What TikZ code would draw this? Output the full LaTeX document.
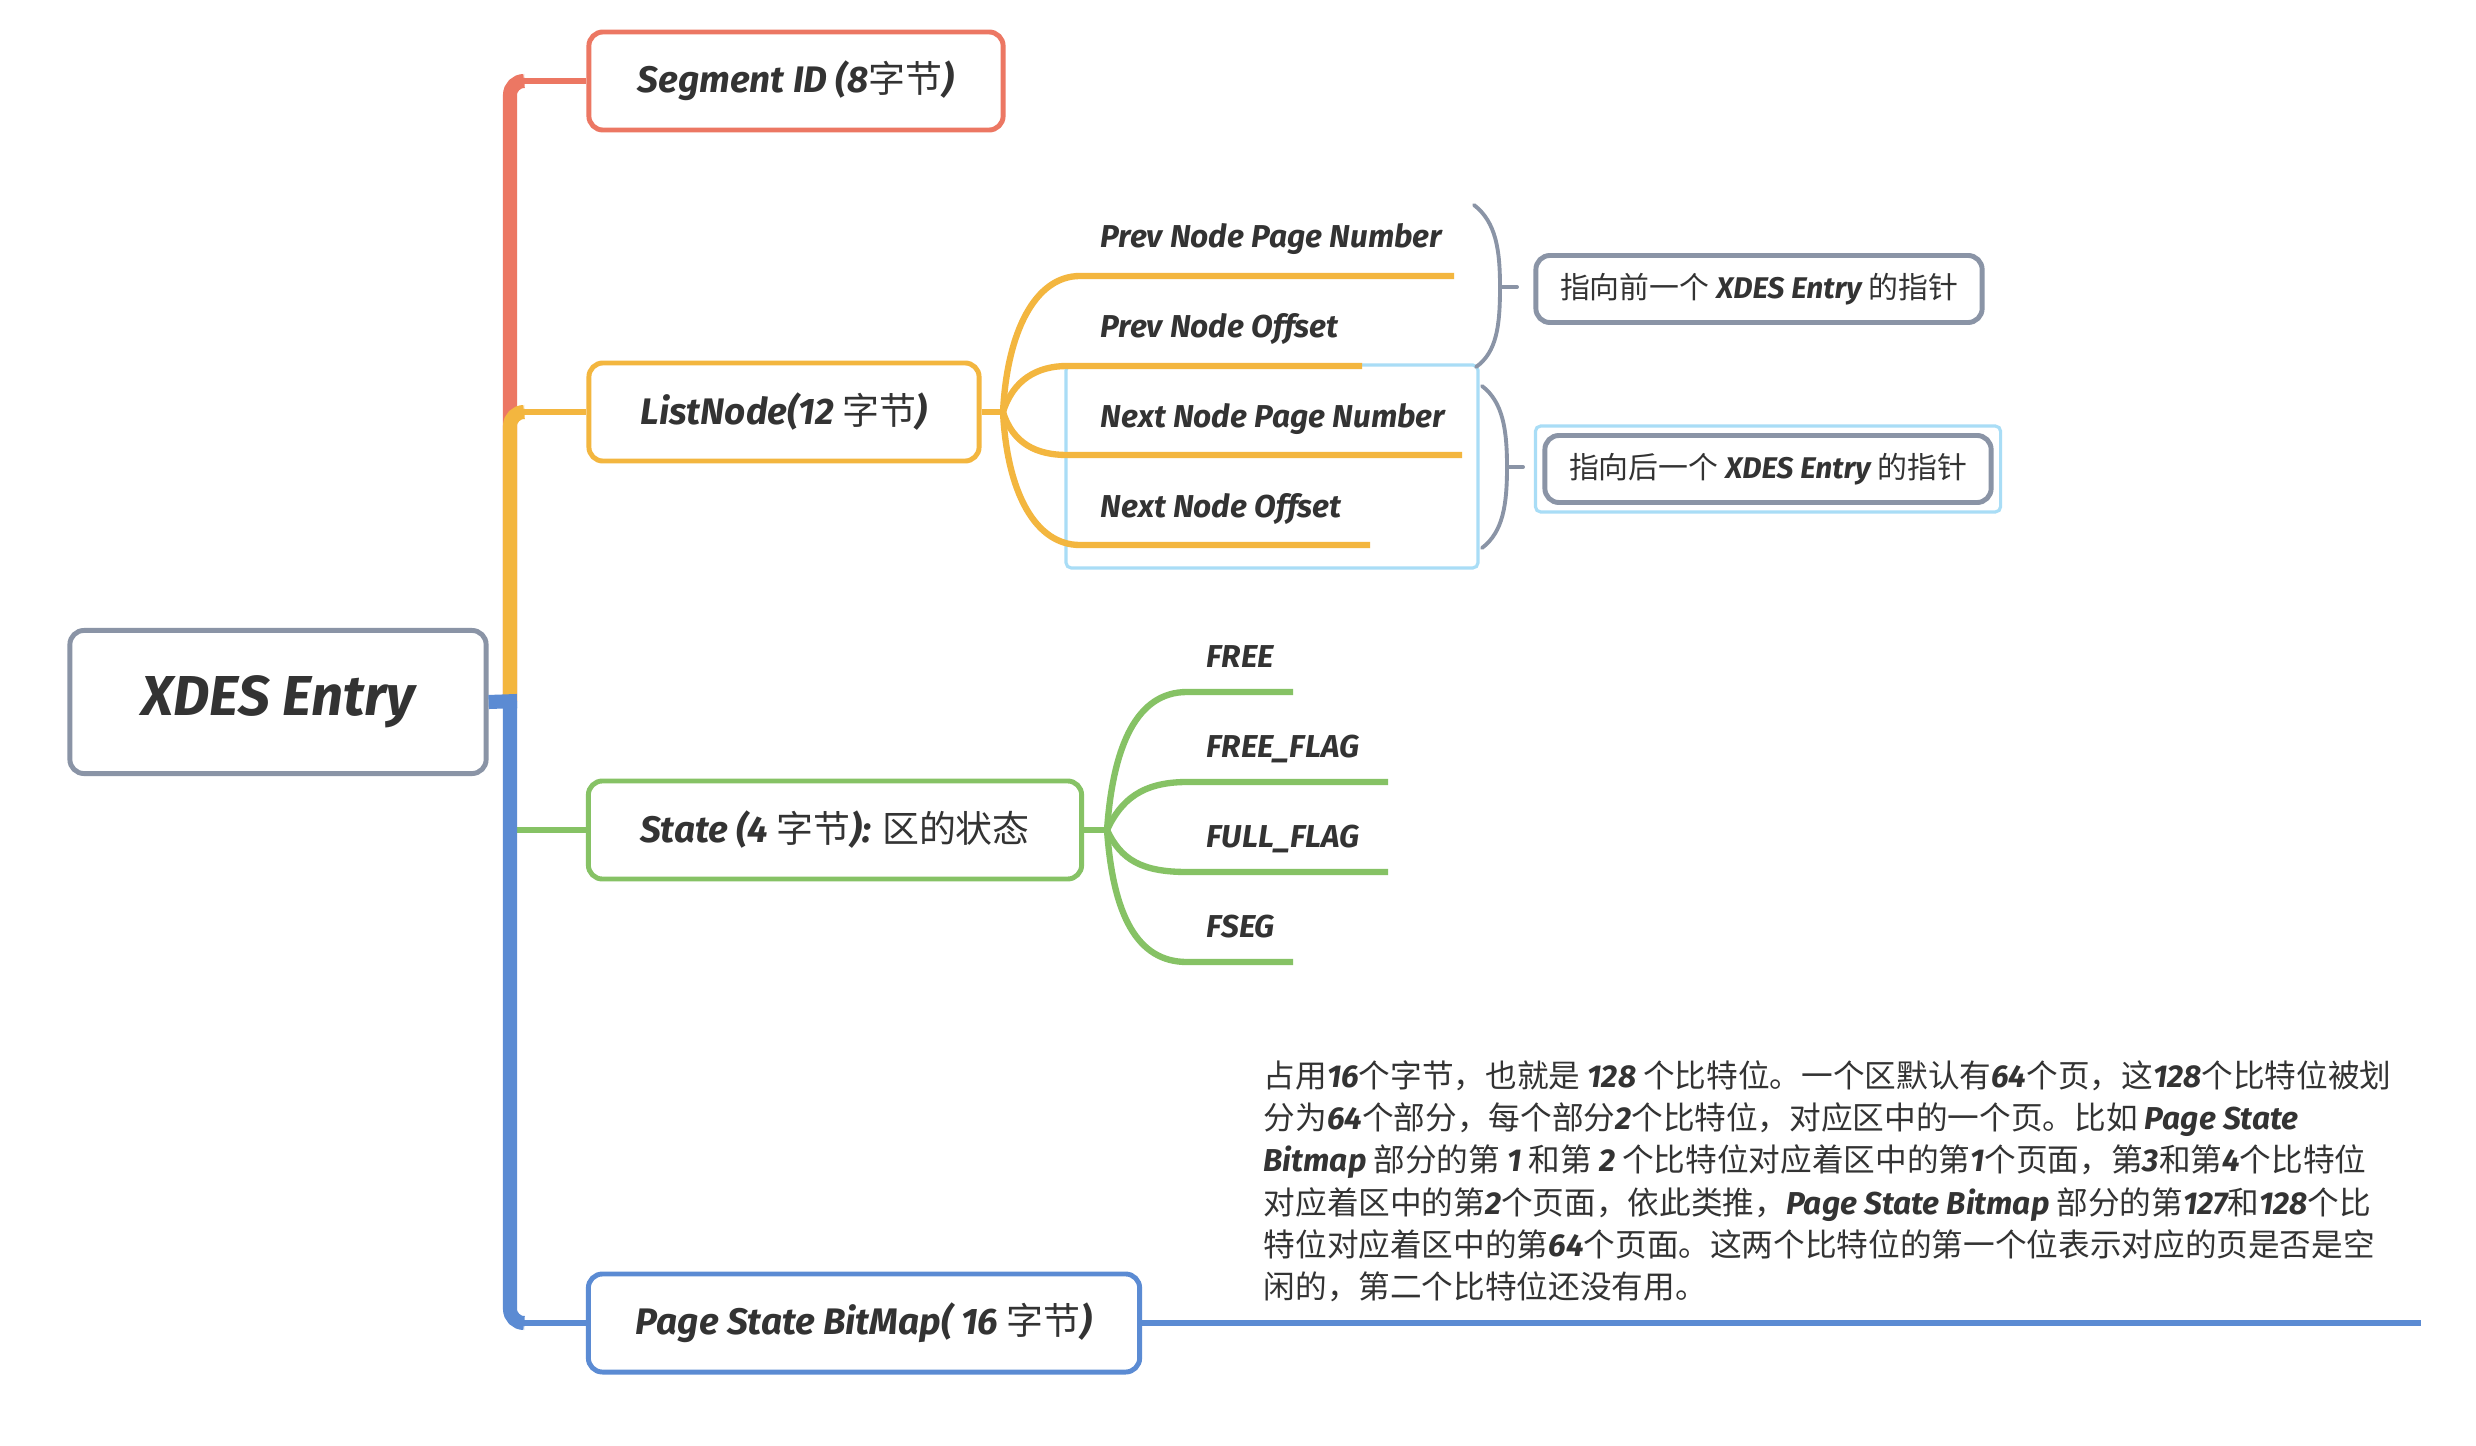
\documentclass[tikz,border=0pt]{standalone}
\usepackage{fontspec}
\setmainfont{Fira Sans}
\newfontfamily\cjk{Noto Sans CJK SC}
\usepackage{xcolor}
\usepackage{tikz}
\usetikzlibrary{calc}

\definecolor{ink}{HTML}{333333}
\definecolor{xred}{HTML}{EC7763}
\definecolor{xyellow}{HTML}{F3B63F}
\definecolor{xgreen}{HTML}{86C265}
\definecolor{xblue}{HTML}{5B8BD3}
\definecolor{xgray}{HTML}{8A94A6}
\definecolor{xsky}{HTML}{A9DDF6}

\newcommand{\zh}[1]{{\cjk\mdseries\upshape #1}}
\newcommand{\en}[1]{{\rmfamily\bfseries\itshape #1}}

\begin{document}
\begin{tikzpicture}[
    x=0.01cm, y=-0.01cm,
    every node/.style={text=ink},
    root/.style={draw=xgray, line width=1.4pt, rounded corners=4pt, fill=white,
                 minimum width=4.16cm, minimum height=1.43cm,
                 font=\fontsize{16}{18}\selectfont\bfseries\itshape},
    topic/.style={draw, line width=1.4pt, rounded corners=4pt, fill=white,
                  minimum height=0.98cm,
                  font=\fontsize{10.5}{12}\selectfont\bfseries\itshape},
    leaf/.style={anchor=base west, inner sep=0pt,
                 font=\fontsize{9}{11}\selectfont\bfseries\itshape},
    note/.style={draw=xgray, line width=1.4pt, rounded corners=4pt, fill=white,
                 minimum width=4.46cm, minimum height=0.67cm,
                 font=\fontsize{8.5}{10}\selectfont\bfseries\itshape},
    trunk/.style={line width=4pt, rounded corners=4pt},
    stub/.style={line width=1.7pt},
    twig/.style={line width=1.8pt},
    brace/.style={draw=xgray, line width=1.1pt, line cap=round},
    selbox/.style={draw=xsky, line width=0.9pt, rounded corners=1.5pt},
]
    \useasboundingbox (0,0) rectangle (2476,1446);
    \fill[white] (0,0) rectangle (2476,1446);

    % Root and main topics
    \node[root] (root) at (278,702) {XDES Entry};
    \node[topic, draw=xred, minimum width=4.14cm] (segid) at (796,81)
        {Segment ID (8\zh{字节})};
    \node[topic, draw=xyellow, minimum width=3.90cm] (listnode) at (784,412)
        {ListNode(12 \zh{字节})};
    \node[topic, draw=xgreen, minimum width=4.93cm] (state) at (835,830)
        {State (4 \zh{字节}): \zh{区的状态}};
    \node[topic, draw=xblue, minimum width=5.51cm] (bitmap) at (864,1323)
        {Page State BitMap( 16 \zh{字节})};

    \coordinate (hub) at (510,701);

    % Trunk branches
    \draw[trunk, xred] (hub) |- ($(hub |- segid.west)+(14,0)$);
    \draw[stub, xred] ($(hub |- segid.west)+(12,0)$) -- (segid.west);
    \draw[trunk, xyellow] (hub) |- ($(hub |- listnode.west)+(14,0)$);
    \draw[stub, xyellow] ($(hub |- listnode.west)+(12,0)$) -- (listnode.west);
    \draw[stub, xgreen] (hub |- state.west) -- (state.west);
    \draw[trunk, xblue] (hub) |- ($(hub |- bitmap.west)+(14,0)$);
    \draw[stub, xblue] ($(hub |- bitmap.west)+(12,0)$) -- (bitmap.west);
    \draw[trunk, xblue] (root.east) -- ($(hub)+(7,0)$);

    % ListNode children
    \coordinate (lfork) at (1003,412);
    \draw[stub, xyellow] (listnode.east) -- (lfork);
    \draw[selbox] (1066,365) rectangle (1478,568);

    \node[leaf] (pnpn) at (1100,248) {Prev Node Page Number};
    \node[leaf] (pno)  at (1100,338) {Prev Node Offset};
    \node[leaf] (nnpn) at (1100,428) {Next Node Page Number};
    \node[leaf] (nno)  at (1100,518) {Next Node Offset};

    \coordinate (pnpn-s) at (1080,276); \coordinate (pnpn-e) at (1454,276);
    \coordinate (pno-s)  at (1067,366); \coordinate (pno-e)  at (1362,366);
    \coordinate (nnpn-s) at (1067,455); \coordinate (nnpn-e) at (1462,455);
    \coordinate (nno-s)  at (1080,545); \coordinate (nno-e)  at (1370,545);

    \draw[twig, xyellow] (lfork) .. controls +(4,-80) and +(-45,0) .. (pnpn-s) -- (pnpn-e);
    \draw[twig, xyellow] (lfork) .. controls +(10,-32) and +(-30,0) .. (pno-s) -- (pno-e);
    \draw[twig, xyellow] (lfork) .. controls +(10,32) and +(-30,0) .. (nnpn-s) -- (nnpn-e);
    \draw[twig, xyellow] (lfork) .. controls +(4,80) and +(-45,0) .. (nno-s) -- (nno-e);

    % Braces and their notes
    \coordinate (b1) at (1500,287);
    \coordinate (b2) at (1507,467);
    \draw[brace] (1474,205) .. controls (1496,222) and (1500,250) .. (b1)
                 .. controls (1500,325) and (1497,352) .. (1476,367);
    \draw[brace] (b1) -- ++(17,0);
    \draw[brace] (1482,386) .. controls (1503,402) and (1507,430) .. (b2)
                 .. controls (1507,505) and (1503,532) .. (1482,548);
    \draw[brace] (b2) -- ++(16,0);

    \node[note] (prevnote) at (1759,289) {\zh{指向前一个} XDES Entry \zh{的指针}};
    \node[note] (nextnote) at (1768,469) {\zh{指向后一个} XDES Entry \zh{的指针}};
    \draw[selbox] ($(nextnote.north west)+(-7,-7)$) rectangle ($(nextnote.south east)+(7,7)$);

    % State children
    \coordinate (sfork) at (1107,830);
    \draw[stub, xgreen] (state.east) -- (sfork);

    \node[leaf] (free)  at (1206,667) {FREE};
    \node[leaf] (freef) at (1206,757) {FREE\_FLAG};
    \node[leaf] (fullf) at (1206,847) {FULL\_FLAG};
    \node[leaf] (fseg)  at (1206,937) {FSEG};

    \coordinate (free-s)  at (1187,692); \coordinate (free-e)  at (1293,692);
    \coordinate (freef-s) at (1187,782); \coordinate (freef-e) at (1388,782);
    \coordinate (fullf-s) at (1187,872); \coordinate (fullf-e) at (1388,872);
    \coordinate (fseg-s)  at (1187,962); \coordinate (fseg-e)  at (1293,962);

    \draw[twig, xgreen] (sfork) .. controls +(6,-85) and +(-50,0) .. (free-s) -- (free-e);
    \draw[twig, xgreen] (sfork) .. controls +(14,-30) and +(-45,0) .. (freef-s) -- (freef-e);
    \draw[twig, xgreen] (sfork) .. controls +(14,30) and +(-45,0) .. (fullf-s) -- (fullf-e);
    \draw[twig, xgreen] (sfork) .. controls +(6,85) and +(-50,0) .. (fseg-s) -- (fseg-e);

    % Page State BitMap description
    \coordinate (bmend) at (2421,1323);
    \draw[twig, xblue] (bitmap.east) -- (bmend);
    \node[anchor=north west, inner sep=0pt, align=left,
          font=\cjk\fontsize{9}{12}\selectfont] (bmtext) at (1263,1060) {%
占用\en{16}个字节，也就是 \en{128} 个比特位。一个区默认有\en{64}个页，这\en{128}个比特位被划\\
分为\en{64}个部分，每个部分\en{2}个比特位，对应区中的一个页。比如 \en{Page State}\\
\en{Bitmap} 部分的第 \en{1} 和第 \en{2} 个比特位对应着区中的第\en{1}个页面，第\en{3}和第\en{4}个比特位\\
对应着区中的第\en{2}个页面，依此类推，\en{Page State Bitmap} 部分的第\en{127}和\en{128}个比\\
特位对应着区中的第\en{64}个页面。这两个比特位的第一个位表示对应的页是否是空\\
闲的，第二个比特位还没有用。};
\end{tikzpicture}
\end{document}
